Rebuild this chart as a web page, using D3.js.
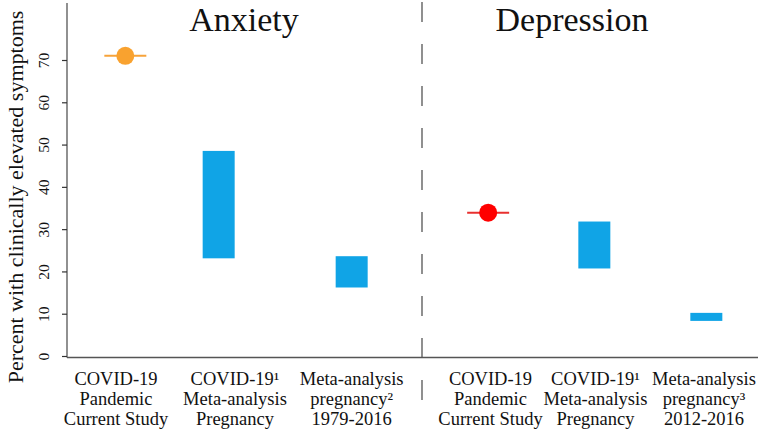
<!DOCTYPE html>
<html>
<head>
<meta charset="utf-8">
<script src="https://cdn.jsdelivr.net/npm/d3@7"></script>
<style>
  html, body { margin: 0; padding: 0; background: #fff; }
  svg { display: block; }
  text { font-family: "Liberation Serif", "DejaVu Serif", serif; fill: #111; }
</style>
</head>
<body>
<svg id="chart" width="767" height="433"></svg>
<script>
// ---- data ----
const panels = ["Anxiety", "Depression"];
const categories = [
  ["COVID-19", "Pandemic", "Current Study"],
  ["COVID-19\u00B9", "Meta-analysis", "Pregnancy"],
  ["Meta-analysis", "pregnancy\u00B2", "1979-2016"],
  ["COVID-19", "Pandemic", "Current Study"],
  ["COVID-19\u00B9", "Meta-analysis", "Pregnancy"],
  ["Meta-analysis", "pregnancy\u00B3", "2012-2016"]
];
const markX   = [1.0, 1.80, 2.94, 4.11, 5.02, 5.98];
const labelX  = [0.92, 1.94, 2.94, 4.13, 5.03, 5.96];
const kind    = ["point", "range", "range", "point", "range", "range"];
const lowVals  = [71.0, 23.1, 16.2, 33.9, 20.7, 8.3];
const highVals = [71.0, 48.5, 23.6, 33.9, 31.8, 10.2];
const yTicks = [0, 10, 20, 30, 40, 50, 60, 70];
const yTitle = "Percent with clinically elevated symptoms";

// ---- drawing ----
const svg = d3.select("#chart");
const x = d3.scaleLinear().domain([0.5, 6.5]).range([67, 767]);
const y = d3.scaleLinear().domain([0, 70]).range([356, 60]);

const pointColors = ["#F9A22F", null, null, "#FF0000", null, null];
const lineColors  = ["#F7A33A", null, null, "#E8302F", null, null];
const barColor = "#10A4E6";

// frame (L box)
svg.append("line").attr("x1", 67).attr("x2", 67).attr("y1", 3).attr("y2", 357.5)
  .attr("stroke", "#555").attr("stroke-width", 1.3);
svg.append("line").attr("x1", 67).attr("x2", 758).attr("y1", 357.5).attr("y2", 357.5)
  .attr("stroke", "#555").attr("stroke-width", 1.3);

// y axis
const yAxis = d3.axisLeft(y).tickValues(yTicks).tickSize(5).tickPadding(4);
const gy = svg.append("g").attr("transform", "translate(67,0)").call(yAxis)
  .attr("font-family", "'Liberation Serif', serif").attr("font-size", 15);
gy.select(".domain").remove();
gy.selectAll(".tick line").attr("stroke", "#333").attr("stroke-width", 1.2);
gy.selectAll(".tick text")
  .attr("transform", "rotate(-90)")
  .attr("x", 0).attr("y", -18)
  .attr("dy", 0)
  .attr("text-anchor", "middle")
  .style("font-family", "'Liberation Serif', serif")
  .style("font-size", "15.5px")
  .attr("fill", "#222");

// y title
svg.append("text")
  .attr("transform", `translate(23,${197}) rotate(-90)`)
  .attr("text-anchor", "middle")
  .style("font-size", "22px")
  .text(yTitle);

// dashed divider
svg.append("line").attr("x1", 422).attr("x2", 422).attr("y1", 2).attr("y2", 400)
  .attr("stroke", "#555").attr("stroke-width", 1.3).attr("stroke-dasharray", "20,22");

// panel titles
const titleX = [244, 572];
svg.selectAll("text.panel").data(panels).join("text")
  .attr("class", "panel")
  .attr("x", (d, i) => titleX[i]).attr("y", 31)
  .attr("text-anchor", "middle")
  .style("font-size", "34px")
  .text(d => d);

// marks
const idx = d3.range(categories.length);
const barW = 32;
svg.selectAll("rect.bar").data(idx.filter(i => kind[i] === "range")).join("rect")
  .attr("class", "bar")
  .attr("x", i => x(markX[i]) - barW / 2)
  .attr("width", barW)
  .attr("y", i => y(highVals[i]))
  .attr("height", i => y(lowVals[i]) - y(highVals[i]))
  .attr("fill", barColor);

const pts = idx.filter(i => kind[i] === "point");
svg.selectAll("line.whisk").data(pts).join("line")
  .attr("class", "whisk")
  .attr("x1", i => x(markX[i]) - 21).attr("x2", i => x(markX[i]) + 21)
  .attr("y1", i => y(lowVals[i])).attr("y2", i => y(lowVals[i]))
  .attr("stroke", i => lineColors[i]).attr("stroke-width", 2);
svg.selectAll("circle.pt").data(pts).join("circle")
  .attr("class", "pt")
  .attr("cx", i => x(markX[i])).attr("cy", i => y(lowVals[i]))
  .attr("r", 9)
  .attr("fill", i => pointColors[i]);

// category labels
const lbl = svg.selectAll("text.cat").data(idx).join("text")
  .attr("class", "cat")
  .attr("text-anchor", "middle")
  .style("font-size", "18.5px");
lbl.selectAll("tspan").data(i => categories[i].map(s => ({ s, i }))).join("tspan")
  .attr("x", d => x(labelX[d.i]))
  .attr("y", (d, k) => 385 + k * 20)
  .text(d => d.s);
</script>
</body>
</html>
